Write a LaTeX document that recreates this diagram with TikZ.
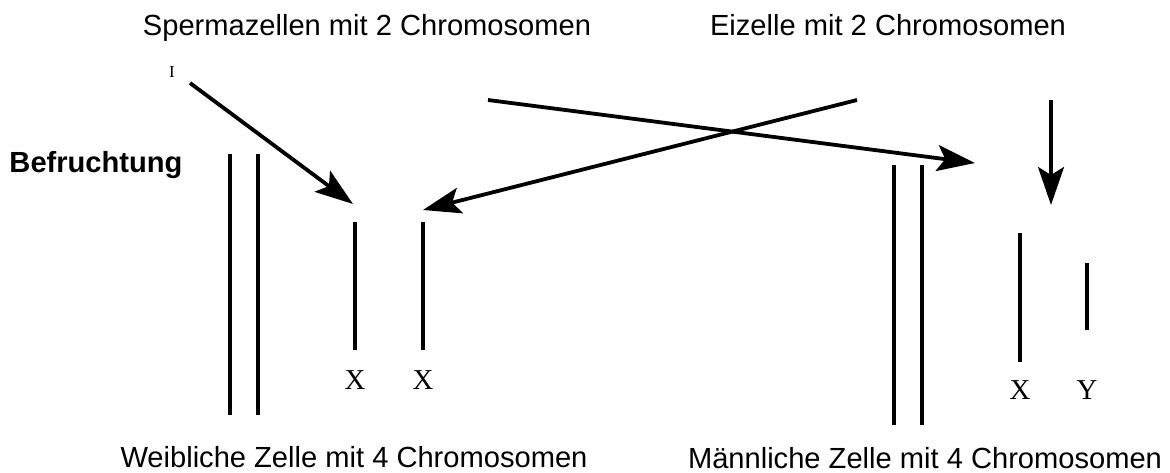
\documentclass[tikz,border=0pt]{standalone}
\usepackage{fontspec}
\setmainfont{Liberation Sans}
\newfontfamily\chromfont{Liberation Serif}
\usetikzlibrary{arrows.meta}

\begin{document}
\begin{tikzpicture}[x=0.025cm, y=-0.025cm,
  chrom/.style={line width=2.4pt},
  pfeil/.style={line width=2.7pt, -{Stealth[length=0.95cm, width=0.65cm, inset=0.2cm]}},
  titel/.style={anchor=base, inner sep=0pt, font=\fontsize{20.7}{24}\selectfont},
  marke/.style={inner sep=0pt, font=\chromfont\fontsize{20.5}{24}\selectfont}]
  \useasboundingbox (0,0) rectangle (1170,473);

  \node[titel] (sperma) at (367,36) {Spermazellen mit 2 Chromosomen};
  \node[titel] (ei) at (888,36) {Eizelle mit 2 Chromosomen};
  \node[titel, font=\bfseries\fontsize{20.7}{24}\selectfont] (befr) at (96,172) {Befruchtung};
  \node[titel] (weiblich) at (354,467) {Weibliche Zelle mit 4 Chromosomen};
  \node[titel] (maennlich) at (925,468) {Männliche Zelle mit 4 Chromosomen};
  \node[marke, anchor=base, font=\chromfont\fontsize{12}{13}\selectfont] (rest) at (172,78) {I};

  \draw[chrom] (230,154) -- (230,415);
  \draw[chrom] (258,154) -- (258,415);
  \draw[chrom] (355,222) -- (355,350);
  \draw[chrom] (423,222) -- (423,350);
  \node[marke] (xa) at (355,380) {X};
  \node[marke] (xb) at (423,380) {X};

  \draw[chrom] (894,165) -- (894,425);
  \draw[chrom] (922,165) -- (922,425);
  \draw[chrom] (1020,233) -- (1020,362);
  \draw[chrom] (1087,263) -- (1087,330);
  \node[marke] (xc) at (1020,390) {X};
  \node[marke] (yc) at (1087,390) {Y};

  \coordinate (a1) at (190,83);
  \coordinate (a2) at (353,204);
  \coordinate (b1) at (857,100);
  \coordinate (b2) at (423,210);
  \coordinate (c1) at (488,100);
  \coordinate (c2) at (975,163);
  \coordinate (d1) at (1051,100);
  \coordinate (d2) at (1051,205);

  \draw[pfeil] (a1) -- (a2);
  \draw[pfeil] (b1) -- (b2);
  \draw[pfeil] (c1) -- (c2);
  \draw[pfeil, line width=2.2pt] (d1) -- (d2);

\end{tikzpicture}
\end{document}
